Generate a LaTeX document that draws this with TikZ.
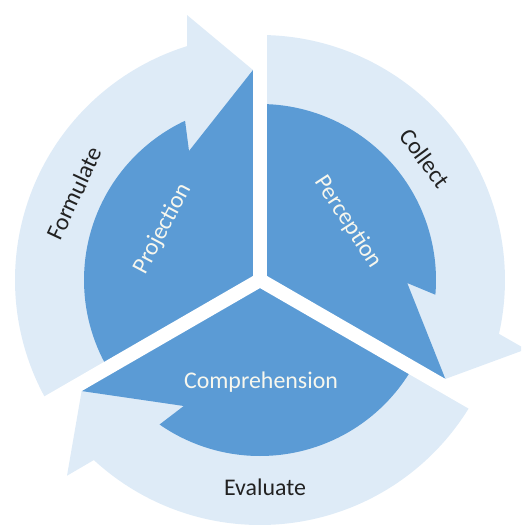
\documentclass[tikz,border=0pt]{standalone}
\usepackage{fontspec}
\setmainfont{Carlito}
\definecolor{darkblue}{HTML}{5B9BD5}
\definecolor{lightblue}{HTML}{DEEBF7}
\definecolor{textwhite}{HTML}{F7F7EE}
\definecolor{textblack}{HTML}{222222}
\begin{document}
\begin{tikzpicture}[font=\fontsize{6.8}{8}\selectfont, outer/.style={text=textblack}, inner/.style={text=textwhite}]
\useasboundingbox (-2.60,-2.45) rectangle (2.61,2.80);
\clip (-2.60,-2.45) rectangle (2.61,2.80);
\foreach \r in {0,120,240} {
\begin{scope}[rotate=\r]
\fill[lightblue] (0,0) -- (210:2.45) arc[start angle=210, end angle=107.3, radius=2.45] -- (-0.73,2.65) -- (-0.07,2.10) -- cycle;
\fill[darkblue] (0,0) -- (210:1.76) arc[start angle=210, end angle=115.2, radius=1.76] -- (-0.71,1.29) -- (-0.07,2.10) -- cycle;
\end{scope}
}
\foreach \a in {90,210,330} \draw[white, line width=0.14cm] (0,0) -- (\a:2.9);
\draw(155:2.05) node[outer, rotate=65] (formulate) {Formulate};
\draw(36.5:2.05) node[outer, rotate=-53.5] (collect) {Collect};
\draw(0.05,-2.07) node[outer] (evaluate) {Evaluate};
\draw(-0.97,0.51) node[inner, rotate=62] (projection) {Projection};
\draw(0.88,0.58) node[inner, rotate=-57] (perception) {Perception};
\draw(0.01,-1.02) node[inner] (comprehension) {Comprehension};
\end{tikzpicture}
\end{document}
